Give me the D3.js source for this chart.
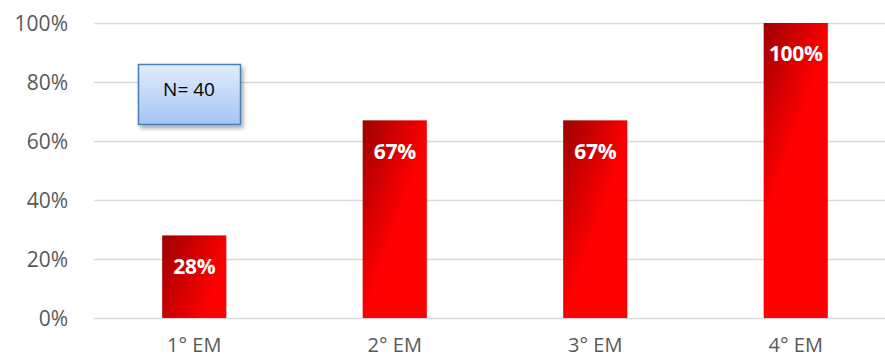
<!DOCTYPE html>
<html>
<head>
<meta charset="utf-8">
<script src="https://cdn.jsdelivr.net/npm/d3@7/dist/d3.min.js"></script>
<style>
  html, body { margin: 0; padding: 0; background: #fff; }
  svg { display: block; }
</style>
</head>
<body>
<svg id="chart" width="885" height="358"></svg>
<script>
// Share of students per school year
const categories = ["1° EM", "2° EM", "3° EM", "4° EM"];
const values = [0.28, 0.67, 0.67, 1.00];
const valueLabels = ["28%", "67%", "67%", "100%"];
const yTicks = [0, 0.2, 0.4, 0.6, 0.8, 1.0];
const sampleNote = "N= 40";

const width = 885, height = 358;
const margin = { top: 23, right: -11, bottom: 40, left: 94 };
const svg = d3.select("#chart");
const defs = svg.append("defs");
const font = "'Open Sans', sans-serif";

const x = d3.scaleBand()
  .domain(categories)
  .range([margin.left, width - margin.right])
  .paddingInner(0.68)
  .paddingOuter(0.34);

const y = d3.scaleLinear()
  .domain([0, 1])
  .range([height - margin.bottom, margin.top]);

// Horizontal gridlines
svg.append("g")
  .selectAll("line")
  .data(yTicks)
  .join("line")
  .attr("x1", margin.left)
  .attr("x2", width)
  .attr("y1", d => Math.round(y(d)) + 0.5)
  .attr("y2", d => Math.round(y(d)) + 0.5)
  .attr("stroke", "#d9d9d9")
  .attr("stroke-width", 1.3);

// Y axis labels
const yAxis = d3.axisLeft(y)
  .tickValues(yTicks)
  .tickFormat(d3.format(".0%"))
  .tickSize(0)
  .tickPadding(0);
svg.append("g")
  .attr("transform", `translate(68,0)`)
  .call(yAxis)
  .call(g => g.select(".domain").remove())
  .call(g => g.selectAll("text")
    .attr("fill", "#595959")
    .attr("font-family", font)
    .attr("font-size", 21)
    .attr("dy", "0.35em"));

// X axis labels
const xAxis = d3.axisBottom(x).tickSize(0).tickPadding(0);
svg.append("g")
  .attr("transform", `translate(0,${height - 12})`)
  .call(xAxis)
  .call(g => g.select(".domain").remove())
  .call(g => g.selectAll("text")
    .attr("fill", "#595959")
    .attr("font-family", font)
    .attr("font-size", 20)
    .attr("dy", "0.3em"));

// Bars with a diagonal dark-to-bright red gradient
categories.forEach((c, i) => {
  const bx = x(c), bw = x.bandwidth(), top = y(values[i]);
  const g = defs.append("linearGradient")
    .attr("id", "barGrad" + i)
    .attr("gradientUnits", "userSpaceOnUse")
    .attr("x1", bx).attr("y1", top)
    .attr("x2", bx + bw).attr("y2", top + bw * 0.35);
  g.append("stop").attr("offset", "0%").attr("stop-color", "#9e0000");
  g.append("stop").attr("offset", "55%").attr("stop-color", "#d40000");
  g.append("stop").attr("offset", "100%").attr("stop-color", "#ff0000");
});

svg.append("g")
  .selectAll("rect")
  .data(values)
  .join("rect")
  .attr("x", (d, i) => x(categories[i]))
  .attr("y", d => y(d))
  .attr("width", x.bandwidth())
  .attr("height", d => y(0) - y(d))
  .attr("fill", (d, i) => `url(#barGrad${i})`);

// Value labels inside the bars
svg.append("g")
  .selectAll("text")
  .data(values)
  .join("text")
  .attr("x", (d, i) => x(categories[i]) + x.bandwidth() / 2)
  .attr("y", d => y(d) + 31)
  .attr("dy", "0.35em")
  .attr("text-anchor", "middle")
  .attr("fill", "#fff")
  .attr("font-family", font)
  .attr("font-weight", "bold")
  .attr("font-size", 21)
  .attr("letter-spacing", "-0.3")
  .text((d, i) => valueLabels[i]);

// Sample size note box
const boxGrad = defs.append("linearGradient")
  .attr("id", "boxGrad").attr("x1", 0).attr("y1", 0).attr("x2", 0).attr("y2", 1);
boxGrad.append("stop").attr("offset", "0%").attr("stop-color", "#e1ecfc");
boxGrad.append("stop").attr("offset", "100%").attr("stop-color", "#a4c4f4");
const shadow = defs.append("filter").attr("id", "boxShadow")
  .attr("x", "-20%").attr("y", "-20%").attr("width", "150%").attr("height", "150%");
shadow.append("feDropShadow")
  .attr("dx", 2).attr("dy", 3).attr("stdDeviation", 2)
  .attr("flood-color", "#000").attr("flood-opacity", 0.35);

const note = svg.append("g");
note.append("rect")
  .attr("x", 138.5).attr("y", 64.5)
  .attr("width", 102).attr("height", 60)
  .attr("fill", "url(#boxGrad)")
  .attr("stroke", "#4a7ebb")
  .attr("stroke-width", 1.5)
  .attr("filter", "url(#boxShadow)");
note.append("text")
  .attr("x", 189).attr("y", 89)
  .attr("dy", "0.35em")
  .attr("text-anchor", "middle")
  .attr("fill", "#000")
  .attr("font-family", font)
  .attr("font-size", 19)
  .text(sampleNote);
</script>
</body>
</html>
